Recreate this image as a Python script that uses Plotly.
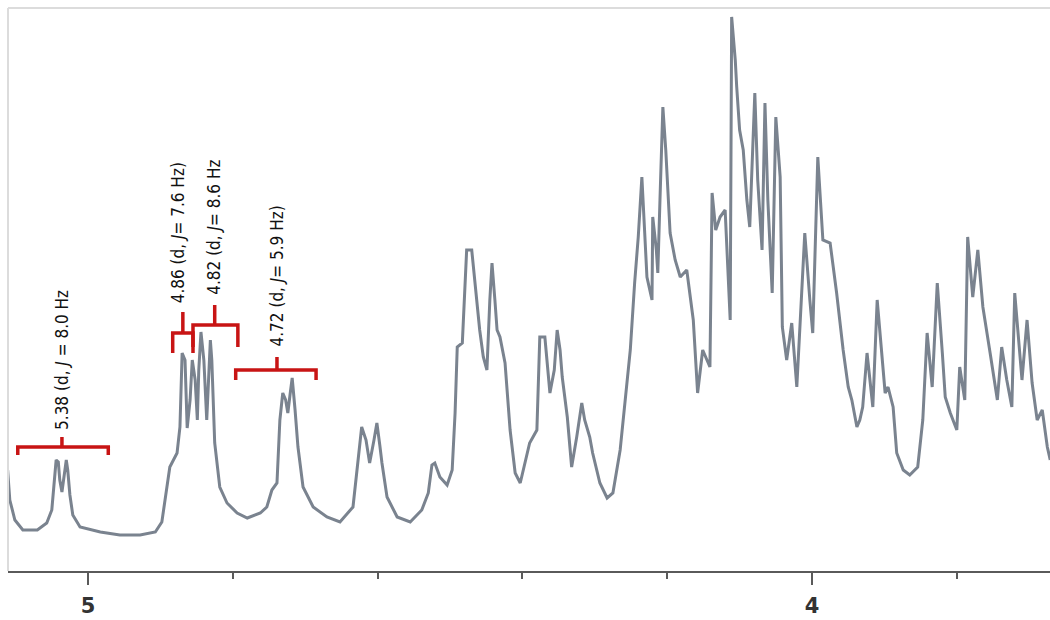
import plotly.graph_objects as go

# 1H NMR trace: chemical shift (ppm) and intensity (arb. units)
ppm = [5.111, 5.108, 5.101, 5.090, 5.070, 5.057, 5.050, 5.047, 5.044, 5.041,
       5.039, 5.036, 5.033, 5.030, 5.028, 5.025, 5.021, 5.011, 4.983, 4.956,
       4.928, 4.907, 4.898, 4.894, 4.887, 4.877, 4.873, 4.870, 4.866, 4.863,
       4.859, 4.856, 4.852, 4.849, 4.847, 4.844, 4.840, 4.836, 4.833, 4.831,
       4.829, 4.827, 4.825, 4.818, 4.808, 4.794, 4.780, 4.762, 4.753, 4.746,
       4.739, 4.735, 4.731, 4.727, 4.724, 4.721, 4.718, 4.714, 4.710, 4.703,
       4.689, 4.670, 4.652, 4.634, 4.627, 4.622, 4.616, 4.611, 4.605, 4.601,
       4.597, 4.594, 4.587, 4.573, 4.555, 4.539, 4.530, 4.525, 4.521, 4.514,
       4.504, 4.497, 4.493, 4.490, 4.483, 4.479, 4.477, 4.470, 4.466, 4.459,
       4.454, 4.449, 4.445, 4.442, 4.438, 4.435, 4.431, 4.424, 4.417, 4.410,
       4.403, 4.390, 4.380, 4.376, 4.369, 4.362, 4.356, 4.352, 4.348, 4.345,
       4.338, 4.332, 4.325, 4.320, 4.318, 4.314, 4.307, 4.303, 4.293, 4.283,
       4.275, 4.265, 4.256, 4.251, 4.245, 4.240, 4.235, 4.231, 4.228, 4.221,
       4.220, 4.215, 4.213, 4.210, 4.206, 4.202, 4.196, 4.189, 4.182, 4.173,
       4.164, 4.158, 4.151, 4.141, 4.138, 4.133, 4.127, 4.120, 4.116, 4.113,
       4.111, 4.106, 4.104, 4.100, 4.095, 4.090, 4.086, 4.079, 4.075, 4.069,
       4.065, 4.061, 4.055, 4.050, 4.044, 4.041, 4.035, 4.028, 4.021, 4.015,
       4.010, 4.003, 3.999, 3.992, 3.988, 3.985, 3.975, 3.966, 3.957, 3.950,
       3.945, 3.938, 3.934, 3.930, 3.924, 3.920, 3.916, 3.910, 3.903, 3.899,
       3.895, 3.888, 3.883, 3.874, 3.865, 3.854, 3.847, 3.841, 3.834, 3.827,
       3.820, 3.816, 3.809, 3.800, 3.796, 3.789, 3.785, 3.778, 3.771, 3.764,
       3.754, 3.744, 3.738, 3.731, 3.724, 3.720, 3.710, 3.703, 3.696, 3.689,
       3.682, 3.675, 3.671]

intensity = [101, 71, 51, 41, 41, 48, 61, 91, 111, 109,
             91, 79, 93, 111, 101, 76, 56, 44, 39, 36,
             36, 39, 49, 71, 104, 118, 144, 218, 211, 143,
             171, 211, 191, 151, 201, 239, 211, 151, 191, 231,
             211, 161, 128, 84, 68, 58, 53, 58, 64, 81,
             88, 151, 178, 171, 158, 176, 193, 161, 124, 84,
             64, 54, 49, 64, 108, 144, 131, 108, 131, 148,
             126, 108, 74, 54, 49, 61, 78, 106, 108, 94,
             86, 101, 158, 224, 228, 281, 321, 321, 291, 241,
             214, 201, 271, 308, 271, 241, 234, 208, 141, 98,
             88, 128, 141, 234, 234, 178, 201, 241, 221, 194,
             154, 104, 134, 161, 168, 151, 134, 118, 88, 73,
             78, 121, 188, 221, 288, 334, 394, 331, 294, 271,
             354, 321, 298, 371, 464, 421, 338, 311, 294, 301,
             251, 178, 221, 204, 378, 341, 354, 361, 301, 251,
             554, 511, 484, 441, 421, 371, 344, 478, 391, 321,
             468, 371, 278, 454, 394, 244, 211, 248, 184, 271,
             338, 271, 238, 414, 371, 331, 328, 278, 221, 184,
             171, 144, 151, 164, 218, 191, 164, 271, 211, 178,
             184, 164, 118, 101, 96, 104, 151, 238, 184, 288,
             218, 174, 158, 141, 204, 171, 334, 274, 321, 264,
             218, 171, 224, 191, 164, 278, 191, 251, 188, 151,
             161, 124, 111]

x_tick_values = [5, 4]
x_tick_labels = ["5", "4"]

# Multiplet assignments: label, bracket left/right/centre (ppm), bracket level, label base
labels = ["5.38 (d, <i>J</i> = 8.0 Hz",
          "4.86 (d, <i>J</i>= 7.6 Hz)",
          "4.82 (d, <i>J</i>= 8.6 Hz",
          "4.72 (d, <i>J</i>= 5.9 Hz)"]
bracket_left = [5.097, 4.883, 4.855, 4.796]
bracket_right = [4.972, 4.855, 4.793, 4.685]
bracket_center = [5.036, 4.869, 4.825, 4.739]
bracket_level = [124, 238, 246, 201]
bracket_drop = [8, 20, 22, 10]
bracket_tick = [10, 21, 20, 13]
label_x = [5.036, 4.876, 4.827, 4.739]
label_base = [139, 266, 274, 223]

RED = "#c81414"

fig = go.Figure()
fig.add_trace(go.Scatter(
    x=ppm, y=intensity, mode="lines",
    line=dict(color="#7a838f", width=3),
    hoverinfo="skip", showlegend=False))

shapes = []
for L, R, C, lv, dr, tk in zip(bracket_left, bracket_right, bracket_center,
                               bracket_level, bracket_drop, bracket_tick):
    path = (f"M {L},{lv - dr} L {L},{lv} L {R},{lv} L {R},{lv - dr} "
            f"M {C},{lv} L {C},{lv + tk}")
    shapes.append(dict(type="path", path=path, xref="x", yref="y",
                       line=dict(color=RED, width=3.5)))

# light frame lines at top and left of the picture
shapes.append(dict(type="line", xref="paper", yref="paper", x0=0, x1=1, y0=1, y1=1,
                   line=dict(color="#dcdcdc", width=2)))
shapes.append(dict(type="line", xref="paper", yref="paper", x0=0, x1=0, y0=0, y1=1,
                   line=dict(color="#dcdcdc", width=2)))

annotations = []
for txt, lx, lb in zip(labels, label_x, label_base):
    annotations.append(dict(
        x=lx, y=lb, xref="x", yref="y", text=txt, showarrow=False,
        textangle=-90, xanchor="center", yanchor="bottom",
        font=dict(family="DejaVu Sans Condensed, Liberation Sans Narrow, DejaVu Sans",
                  size=17, color="#111111")))

fig.update_layout(
    width=1050, height=620,
    margin=dict(l=8, r=0, t=8, b=49),
    paper_bgcolor="white", plot_bgcolor="white",
    shapes=shapes, annotations=annotations,
    xaxis=dict(range=[5.1105, 3.6713], showgrid=False, zeroline=False,
               showline=True, linecolor="#5a5a5a", linewidth=2,
               tickmode="array", tickvals=x_tick_values, ticktext=x_tick_labels,
               ticks="outside", ticklen=12, tickwidth=2, tickcolor="#5a5a5a",
               ticklabelstandoff=3,
               tickfont=dict(family="DejaVu Sans", size=21, color="#333333",
                             weight="bold"),
               minor=dict(dtick=0.2, tick0=5, ticks="outside", ticklen=6,
                          tickwidth=2, tickcolor="#5a5a5a")),
    yaxis=dict(range=[0, 563], visible=False, showgrid=False, zeroline=False),
)

fig.write_html("out.html", config={"displayModeBar": False},
               post_script="document.body.style.margin='0px';document.body.style.overflow='hidden';")
